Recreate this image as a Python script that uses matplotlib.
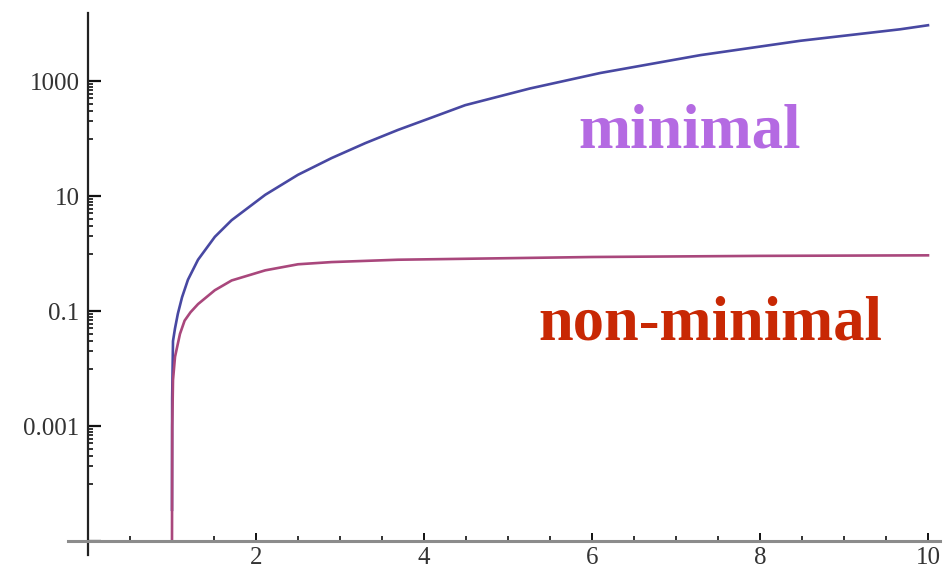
import numpy as np
import matplotlib
matplotlib.use("Agg")
import matplotlib.pyplot as plt
from matplotlib.ticker import FixedLocator, NullFormatter

# values (log y axis)
x_minimal = [1.0, 1.002, 1.012, 1.036, 1.07, 1.12, 1.19, 1.31, 1.51, 1.71, 2.11,
             2.50, 2.90, 3.30, 3.69, 4.10, 4.49, 5.26, 6.10, 7.29, 8.48, 9.67, 10.0]
y_minimal = [3.5e-5, 3e-3, 0.03, 0.05, 0.09, 0.174, 0.35, 0.78, 1.95, 3.8, 10.5,
             23.4, 45.7, 83, 141, 234, 380, 741, 1380, 2820, 5010, 7940, 9330]

x_nonmin = [1.0, 1.003, 1.012, 1.036, 1.095, 1.15, 1.22, 1.31, 1.51, 1.71, 2.11,
            2.50, 2.90, 3.69, 4.49, 6.0, 8.0, 10.0]
y_nonmin = [1e-5, 1.0e-3, 6.3e-3, 0.016, 0.040, 0.068, 0.095, 0.132, 0.23, 0.34,
            0.51, 0.65, 0.71, 0.78, 0.81, 0.87, 0.91, 0.93]

y_major = [1e-5, 1e-3, 0.1, 10, 1000]
y_labels = ["", "0.001", "0.1", "10", "1000"]
x_major = [2, 4, 6, 8, 10]
x_labels = ["2", "4", "6", "8", "10"]

W, H = 947, 574
fig = plt.figure(figsize=(W / 100, H / 100), dpi=100)
# axes box in pixels: x 68..940, y 13..555 (from top)
ax = fig.add_axes([68 / W, (H - 555) / H, (940 - 68) / W, (555 - 13) / H])

ax.plot(x_minimal, y_minimal, color="#4848a2", lw=1.9, solid_joinstyle="round")
ax.plot(x_nonmin, y_nonmin, color="#a9477c", lw=1.9, solid_joinstyle="round")

ax.set_yscale("log")
ax.set_xlim(-0.238, 10.143)
ax.set_ylim(10 ** -5.243, 10 ** 4.183)

for s in ["top", "right"]:
    ax.spines[s].set_visible(False)
ax.spines["left"].set_position(("data", 0))
ax.spines["bottom"].set_position(("data", 1e-5))
ax.spines["left"].set_color("#222222")
ax.spines["left"].set_linewidth(1.6)
ax.spines["bottom"].set_color("#8c8c8c")
ax.spines["bottom"].set_linewidth(2.2)

# ticks
ax.yaxis.set_major_locator(FixedLocator(y_major))
ax.set_yticklabels(y_labels)
minor_y = [m * v / 10 for v in y_major[1:] for m in range(1, 10)]
ax.yaxis.set_minor_locator(FixedLocator(minor_y))
ax.yaxis.set_minor_formatter(NullFormatter())

ax.xaxis.set_major_locator(FixedLocator(x_major))
ax.set_xticklabels(x_labels)
ax.xaxis.set_minor_locator(FixedLocator(np.arange(0.5, 10.01, 0.5)))

ax.tick_params(axis="y", which="major", direction="in", length=9, width=1.6,
               color="#111111", pad=6, labelsize=18, labelcolor="#333333")
ax.tick_params(axis="y", which="minor", direction="in", length=3.5, width=1.2,
               color="#111111")
ax.tick_params(axis="x", which="major", direction="in", length=6, width=1.4,
               color="#111111", pad=4, labelsize=18, labelcolor="#333333")
ax.tick_params(axis="x", which="minor", direction="in", length=3.5, width=1.2,
               color="#111111")
for lab in ax.get_xticklabels() + ax.get_yticklabels():
    lab.set_family("Liberation Serif")

# curve labels
fig.text(690 / W, (H - 147) / H, "minimal", color="#b46ae2", fontsize=45,
         fontweight="bold", family="Liberation Serif", ha="center", va="baseline")
fig.text(710 / W, (H - 340) / H, "non-minimal", color="#c82804", fontsize=45,
         fontweight="bold", family="Liberation Serif", ha="center", va="baseline")

fig.savefig("out.png", dpi=100)
